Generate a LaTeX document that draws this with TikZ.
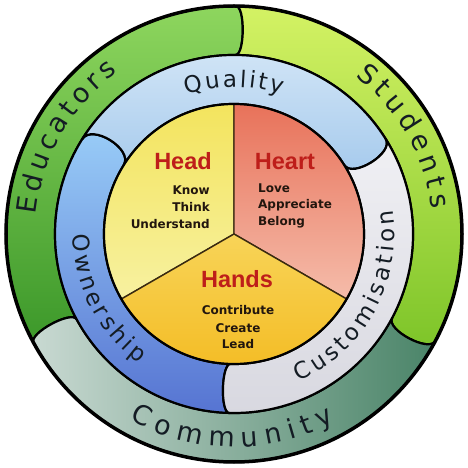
\documentclass[tikz,border=0pt]{standalone}
\usepackage{fontspec}
\usetikzlibrary{calc}
\newfontfamily\djv{DejaVu Sans}
\newfontfamily\lib{Liberation Sans}
\definecolor{eduT}{HTML}{8ED65E}
\definecolor{eduB}{HTML}{3C982A}
\definecolor{stuT}{HTML}{D4F264}
\definecolor{stuB}{HTML}{7CC428}
\definecolor{comL}{HTML}{CADAD3}
\definecolor{comR}{HTML}{4A8468}
\definecolor{quaT}{HTML}{D8E9F8}
\definecolor{quaB}{HTML}{A4C9EC}
\definecolor{ownT}{HTML}{9ACEF8}
\definecolor{ownB}{HTML}{5674D2}
\definecolor{cusT}{HTML}{F0F0F4}
\definecolor{cusB}{HTML}{D8D8E0}
\definecolor{headT}{HTML}{F3E45E}
\definecolor{headB}{HTML}{F7F1A0}
\definecolor{heaT}{HTML}{E8725A}
\definecolor{heaB}{HTML}{F5BCAA}
\definecolor{hanT}{HTML}{F8D458}
\definecolor{hanB}{HTML}{F3BA20}
\definecolor{redtxt}{HTML}{BE1E1A}
\definecolor{darktxt}{HTML}{22160E}
\definecolor{ringtxt}{HTML}{141C24}
\definecolor{pieline}{HTML}{3A2A10}

\newdimen\awdim
\newcommand\awmeasure[2]{%
  \pgfinterruptpicture
  \setbox0\hbox{#1#2}\global\awdim=\wd0
  \endpgfinterruptpicture
}
% #1 font, #2 baseline radius, #3 centre angle, #4 direction (+1 ccw, -1 cw), #5 letter spacing, #6 letters
\newcommand\arcword[6]{%
  \gdef\awtot{0}%
  \foreach \ch in {#6}{%
    \awmeasure{#1}{\ch}%
    \pgfmathsetmacro\awtmp{\awtot+\awdim+#5}%
    \global\let\awtot\awtmp
  }%
  \pgfmathsetmacro\awtmp{#3-(#4)*(\awtot-#5)/2/(#2)*57.29578}%
  \global\let\awang\awtmp
  \foreach \ch in {#6}{%
    \awmeasure{#1}{\ch}%
    \pgfmathsetmacro\awca{\awang+(#4)*(\awdim/2)/(#2)*57.29578}%
    \pgfmathsetmacro\awrot{\awca+(#4)*90}%
    \node[anchor=base, rotate=\awrot, inner sep=0pt, font=#1, text=ringtxt] at (\awca:#2) {\ch};
    \pgfmathsetmacro\awtmp{\awang+(#4)*(\awdim+#5)/(#2)*57.29578}%
    \global\let\awang\awtmp
  }%
}
% #1 style, #2 Ro, #3 Ri, #4 start angle (ccw end), #5 end angle (cw end), #6 bulge at start, #7 bulge at end
\newcommand\ringseg[7]{%
  \path[#1] (#4:#2) arc[start angle=#4, end angle=#5, radius=#2]
    .. controls ($(#5:#2)+(#5-90:4/3*#7)$) and ($(#5:#3)+(#5-90:4/3*#7)$) .. (#5:#3)
    arc[start angle=#5, end angle=#4, radius=#3]
    .. controls ($(#4:#3)+(#4-90:4/3*#6)$) and ($(#4:#2)+(#4-90:4/3*#6)$) .. (#4:#2) -- cycle;
}

\begin{document}
\begin{tikzpicture}[x=1pt,y=1pt,
  segline/.style={draw=black, line width=2.2pt, line join=round},
  bigred/.style={font=\lib\bfseries\fontsize{23.5}{26}\selectfont, text=redtxt, inner sep=0pt, anchor=base},
  small/.style={font=\djv\bfseries\fontsize{12}{14}\selectfont, text=darktxt, inner sep=0pt},
  pie/.style={draw=pieline, line width=1.4pt, line join=round}]
\fill[white] (-234,-234) rectangle (234,234);
\useasboundingbox (-234,-234) rectangle (234,234);

% outer ring
\ringseg{segline, top color=eduT, bottom color=eduB}{228}{179}{208.5}{89.5}{8}{7}
\ringseg{segline, top color=stuT, bottom color=stuB}{228}{179}{89.5}{-28}{7}{10}
\ringseg{segline, left color=comL, right color=comR}{228}{179}{-28}{-151.5}{10}{8}

% middle ring
\ringseg{segline, top color=ownT, bottom color=ownB}{179}{130}{268.5}{148}{7}{14}
\ringseg{segline, top color=quaT, bottom color=quaB}{179}{130}{148}{32}{14}{12}
\ringseg{segline, top color=cusT, bottom color=cusB}{179}{130}{32}{-91.5}{12}{7}

% inner pie
\path[pie, top color=headT, bottom color=headB] (0,0) -- (90:130) arc[start angle=90, end angle=210, radius=130] -- cycle;
\path[pie, top color=heaT, bottom color=heaB] (0,0) -- (-30:130) arc[start angle=-30, end angle=90, radius=130] -- cycle;
\path[pie, top color=hanT, bottom color=hanB] (0,0) -- (210:130) arc[start angle=210, end angle=330, radius=130] -- cycle;
\draw[black, line width=2.2pt] (0,0) circle[radius=130];

% outer border
\draw[black, line width=3.5pt] (0,0) circle[radius=228];

% ring words
\arcword{\djv\fontsize{27}{30}\selectfont}{199}{150}{-1}{4.2}{E,d,u,c,a,t,o,r,s}
\arcword{\djv\fontsize{27}{30}\selectfont}{199}{29.8}{-1}{5.3}{S,t,u,d,e,n,t,s}
\arcword{\djv\fontsize{27}{30}\selectfont}{213}{269.5}{1}{7.3}{C,o,m,m,u,n,i,t,y}
\arcword{\djv\fontsize{23}{26}\selectfont}{147}{90}{-1}{2.5}{Q,u,a,l,i,t,y}
\arcword{\djv\fontsize{23}{26}\selectfont}{161}{207}{1}{3.4}{O,w,n,e,r,s,h,i,p}
\arcword{\djv\fontsize{23}{26}\selectfont}{161}{331}{1}{3.8}{C,u,s,t,o,m,i,s,a,t,i,o,n}

% inner texts
\node[bigred] (head) at (-51,64) {Head};
\node[small, anchor=base east] (know) at (-24,39) {Know};
\node[small, anchor=base east] (think) at (-24,22) {Think};
\node[small, anchor=base east] (underst) at (-24,5) {Understand};

\node[bigred] (heart) at (51,64) {Heart};
\node[small, anchor=base west] (love) at (24,41) {Love};
\node[small, anchor=base west] (appr) at (24,25) {Appreciate};
\node[small, anchor=base west] (belong) at (24,8) {Belong};

\node[bigred] (hands) at (3,-53) {Hands};
\node[small, anchor=base] (contr) at (4,-81) {Contribute};
\node[small, anchor=base] (create) at (4,-98) {Create};
\node[small, anchor=base] (lead) at (4,-114) {Lead};
\end{tikzpicture}
\end{document}
